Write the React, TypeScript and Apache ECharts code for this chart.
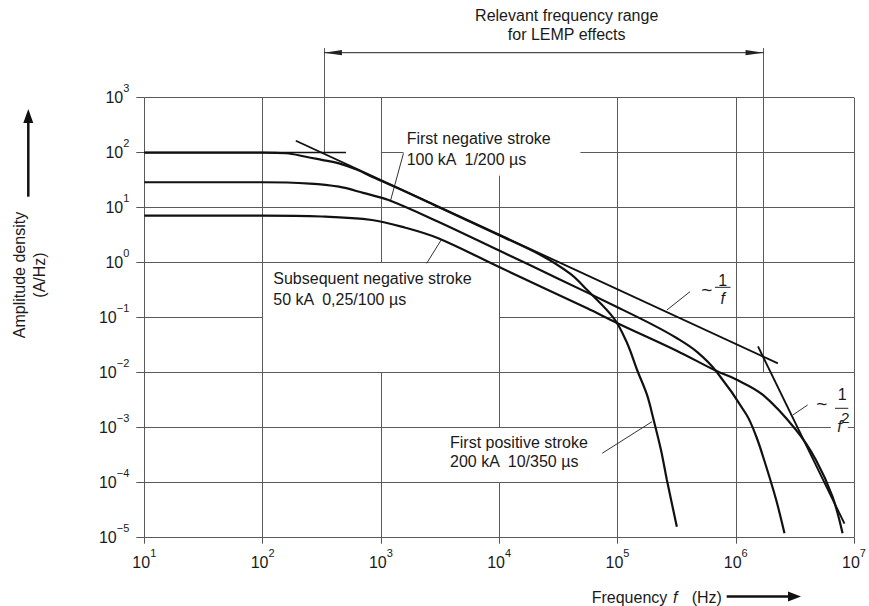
import { useEffect, useRef } from 'react';
import * as echarts from 'echarts';

type Pt = [number, number];

const FONT = '"Liberation Sans", Arial, Helvetica, sans-serif';

// axis decades (exponents of ten)
const xExponents = [1, 2, 3, 4, 5, 6, 7];
const yExponents = [-5, -4, -3, -2, -1, 0, 1, 2, 3];

// First positive stroke 200 kA 10/350 µs  [frequency Hz, amplitude density A/Hz]
const firstPositive: Pt[] = [
  [10, 100], [100, 100], [158, 97.7], [232, 84.5], [316, 74.1], [442, 64.1], [631, 49.0], [839, 36.6],
  [1585, 20.0], [3162, 10.0], [1e4, 3.16], [22400, 1.38], [39800, 0.63], [55500, 0.318], [93300, 0.0975],
  [120800, 0.0343], [146600, 0.0112], [177800, 0.00394], [202300, 0.00138], [233300, 3.94e-4],
  [261800, 1.12e-4], [317700, 1.58e-5],
];

// First negative stroke 100 kA 1/200 µs
const firstNegative: Pt[] = [
  [10, 29], [100, 29], [251, 27.5], [442, 24.1], [708, 18.6], [1161, 13.8], [3055, 5.56], [1e4, 1.66],
  [31600, 0.513], [1e5, 0.155], [199500, 0.0741], [316200, 0.0427], [467700, 0.0241], [688700, 0.0104],
  [1.23e6, 1.74e-3], [1.493e6, 6.85e-4], [1.811e6, 1.95e-4], [2.198e6, 4.84e-5], [2.582e6, 1.2e-5],
];

// Subsequent negative stroke 50 kA 0,25/100 µs
const subsequentNegative: Pt[] = [
  [10, 7.2], [100, 7.2], [316, 6.92], [839, 5.97], [1585, 4.37], [3055, 2.78], [1e4, 0.832],
  [55500, 0.148], [1e5, 0.0794], [316200, 0.0251], [688700, 0.0107], [1e6, 7.6e-3], [1.698e6, 3.94e-3],
  [3.236e6, 9.08e-4], [4.764e6, 2.59e-4], [6.577e6, 5.56e-5], [8.0e6, 1.2e-5],
];

// asymptotes
const plateauLine: Pt[] = [[10, 100], [507, 100]];
const inverseFLine: Pt[] = [[191, 165], [2.27e6, 0.0148]];
const inverseF2Line: Pt[] = [[1.542e6, 0.030], [8.3e6, 1.8e-5]];

// label leader lines
const leaders: [Pt, Pt][] = [
  [[1552, 97.5], [1200, 12.85]],
  [[2438, 0.975], [3236, 2.59]],
  [[74300, 3.43e-4], [195900, 1.285e-3]],
  [[261800, 0.138], [410200, 0.297]],
  [[3.034e6, 1.70e-3], [4.055e6, 2.59e-3]],
];

// relevant frequency range for LEMP effects
const lempRange = [330, 1.718e6];
const lempArrowLevel = 6580;
const lempTop = 8000;
const lempBottoms = [100, 0.01];

// grid segments: horizontal [y, xFrom, xTo], vertical [x, yFrom, yTo]
const hGrid: [number, number, number][] = [
  [1e3, 1e1, 1e7],
  [1e2, 1e1, 507], [1e2, 1e3, 1552], [1e2, 48600, 1e7],
  [1e1, 1e1, 1e7],
  [1e0, 1e1, 1e7],
  [1e-1, 1e1, 1e2], [1e-1, 1e4, 1e7],
  [1e-2, 1e1, 1e7],
  [1e-3, 1e1, 6.37e6], [1e-3, 8.85e6, 1e7],
  [1e-4, 1e1, 1e7],
  [1e-5, 1e1, 1e7],
];
const vGrid: [number, number, number][] = [
  [1e1, 1e-5, 1e3],
  [1e2, 1e-5, 1e3],
  [1e3, 1e0, 1e3], [1e3, 1e-5, 1e-2],
  [1e4, 1e-3, 38.2], [1e4, 1e-5, 1e-4],
  [1e5, 1e-5, 1e3],
  [1e6, 1e-5, 1e3],
  [1e7, 1e-5, 1e3],
];

const supText = (e: number) => (e < 0 ? '\u2212' + -e : String(e));
const tickFormatter = (v: number) => `{b|10}{s|${supText(Math.round(Math.log10(v)))}}`;
const tickRich = {
  b: { fontSize: 16, fontFamily: FONT, color: '#1a1a1a', lineHeight: 30, verticalAlign: 'middle' },
  s: { fontSize: 11, fontFamily: FONT, color: '#1a1a1a', lineHeight: 30, verticalAlign: 'top' },
};

const TXT = '#1a1a1a';
function txt(text: string, x: number, y: number, o: any = {}) {
  return {
    type: 'text',
    x,
    y,
    rotation: o.rot || 0,
    silent: true,
    style: {
      text,
      fill: TXT,
      fontSize: o.size || 16,
      fontFamily: FONT,
      fontStyle: o.italic ? 'italic' : 'normal',
      textAlign: o.align || 'left',
      textVerticalAlign: 'middle',
      align: o.align || 'left',
      verticalAlign: 'middle',
    },
  };
}

export default function App() {
  const ref = useRef<HTMLDivElement>(null);
  useEffect(() => {
    if (!ref.current) return;
    const chart = echarts.init(ref.current, undefined, { renderer: 'svg' });
    const curveStyle = { color: '#111', width: 2.2 };
    const option: any = {
      animation: false,
      textStyle: { fontFamily: FONT },
      grid: { left: 144.3, top: 97.7, right: 10.7, bottom: 68.3, containLabel: false },
      xAxis: {
        type: 'log',
        logBase: 10,
        min: Math.pow(10, xExponents[0]),
        max: Math.pow(10, xExponents[xExponents.length - 1]),
        axisLine: { show: false },
        axisTick: { show: true, length: 6, lineStyle: { color: '#555', width: 1 } },
        splitLine: { show: false },
        axisLabel: { formatter: tickFormatter, rich: tickRich, margin: 10 },
      },
      yAxis: {
        type: 'log',
        logBase: 10,
        min: Math.pow(10, yExponents[0]),
        max: Math.pow(10, yExponents[yExponents.length - 1]),
        axisLine: { show: false },
        axisTick: { show: true, length: 8, lineStyle: { color: '#555', width: 1 } },
        splitLine: { show: false },
        axisLabel: { formatter: tickFormatter, rich: tickRich, margin: 15 },
      },
      series: [
        {
          type: 'lines',
          coordinateSystem: 'cartesian2d',
          silent: true,
          clip: false,
          z: 1,
          lineStyle: { color: '#5a5a5a', width: 1, opacity: 1, curveness: 0 },
          data: [
            ...hGrid.map(([y, a, b]) => ({ coords: [[a, y], [b, y]] })),
            ...vGrid.map(([x, a, b]) => ({ coords: [[x, a], [x, b]] })),
            { coords: [[lempRange[0], lempBottoms[0]], [lempRange[0], lempTop]] },
            { coords: [[lempRange[1], lempBottoms[1]], [lempRange[1], lempTop]] },
          ],
        },
        {
          type: 'custom',
          silent: true,
          clip: false,
          z: 3,
          data: [[lempRange[0], lempRange[1], lempArrowLevel]],
          renderItem: (params: any, api: any) => {
            const p1 = api.coord([api.value(0), api.value(2)]);
            const p2 = api.coord([api.value(1), api.value(2)]);
            const h = 18;
            const w = 2.6;
            return {
              type: 'group',
              children: [
                { type: 'line', shape: { x1: p1[0], y1: p1[1], x2: p2[0], y2: p2[1] }, style: { stroke: '#222', lineWidth: 1 } },
                { type: 'polygon', shape: { points: [[p1[0], p1[1]], [p1[0] + h, p1[1] - w], [p1[0] + h, p1[1] + w]] }, style: { fill: '#222' } },
                { type: 'polygon', shape: { points: [[p2[0], p2[1]], [p2[0] - h, p2[1] - w], [p2[0] - h, p2[1] + w]] }, style: { fill: '#222' } },
              ],
            };
          },
        },
        {
          type: 'lines',
          coordinateSystem: 'cartesian2d',
          silent: true,
          clip: false,
          z: 4,
          lineStyle: { color: '#333', width: 1, opacity: 1, curveness: 0 },
          data: leaders.map((l) => ({ coords: l })),
        },
        {
          type: 'lines',
          coordinateSystem: 'cartesian2d',
          silent: true,
          clip: false,
          z: 5,
          lineStyle: { color: '#111', width: 1.9, opacity: 1, curveness: 0 },
          data: [{ coords: inverseFLine }, { coords: inverseF2Line }],
        },
        {
          type: 'lines',
          coordinateSystem: 'cartesian2d',
          silent: true,
          clip: false,
          z: 5,
          lineStyle: { color: '#111', width: 1.4, opacity: 1, curveness: 0 },
          data: [{ coords: plateauLine }],
        },
        ...[firstPositive, firstNegative, subsequentNegative].map((d) => ({
          type: 'line',
          data: d,
          showSymbol: false,
          symbol: 'none',
          smooth: 0.35,
          silent: true,
          clip: false,
          z: 6,
          lineStyle: curveStyle,
        })),
      ],
      graphic: [
        txt('Relevant frequency range', 566.7, 15.8, { align: 'center' }),
        txt('for LEMP effects', 566.7, 34.3, { align: 'center' }),
        txt('First negative stroke', 406.7, 138.8),
        txt('100 kA  1/200 \u00b5s', 406.7, 159.7),
        txt('Subsequent negative stroke', 273.3, 278.2),
        txt('50 kA  0,25/100 \u00b5s', 273.3, 299.2),
        txt('First positive stroke', 450, 442.2),
        txt('200 kA  10/350 \u00b5s', 450, 461.7),
        txt('~', 706.7, 289.3, { align: 'center', size: 19 }),
        txt('1', 722.7, 280, { align: 'center', size: 16 }),
        txt('f', 722.7, 298, { align: 'center', size: 16, italic: true }),
        { type: 'line', silent: true, shape: { x1: 715, y1: 287.3, x2: 730.5, y2: 287.3 }, style: { stroke: '#222', lineWidth: 1 } },
        txt('~', 821.7, 403.3, { align: 'center', size: 19 }),
        txt('1', 842.3, 394, { align: 'center', size: 16 }),
        txt('f', 839.5, 426.5, { align: 'center', size: 16, italic: true }),
        txt('2', 845.5, 417.5, { align: 'center', size: 15 }),
        { type: 'line', silent: true, shape: { x1: 835, y1: 408.3, x2: 848.3, y2: 408.3 }, style: { stroke: '#222', lineWidth: 1 } },
        txt('Amplitude density', 19, 275, { align: 'center', rot: Math.PI / 2 }),
        txt('(A/Hz)', 39, 275, { align: 'center', rot: Math.PI / 2 }),
        { type: 'line', silent: true, shape: { x1: 28.3, y1: 196.7, x2: 28.3, y2: 120 }, style: { stroke: '#111', lineWidth: 2.5 } },
        { type: 'polygon', silent: true, shape: { points: [[28.3, 109], [23.3, 123], [33.3, 123]] }, style: { fill: '#111' } },
        txt('Frequency', 591.7, 597),
        txt('f', 673, 597, { italic: true }),
        txt('(Hz)', 691.7, 597),
        { type: 'line', silent: true, shape: { x1: 726.7, y1: 596.5, x2: 790, y2: 596.5 }, style: { stroke: '#111', lineWidth: 2.5 } },
        { type: 'polygon', silent: true, shape: { points: [[801, 596.5], [788, 591.5], [788, 601.5]] }, style: { fill: '#111' } },
      ],
    };
    chart.setOption(option);
    return () => chart.dispose();
  }, []);
  return <div ref={ref} style={{ position: 'absolute', left: 0, top: 0, width: 869, height: 606 }} />;
}
